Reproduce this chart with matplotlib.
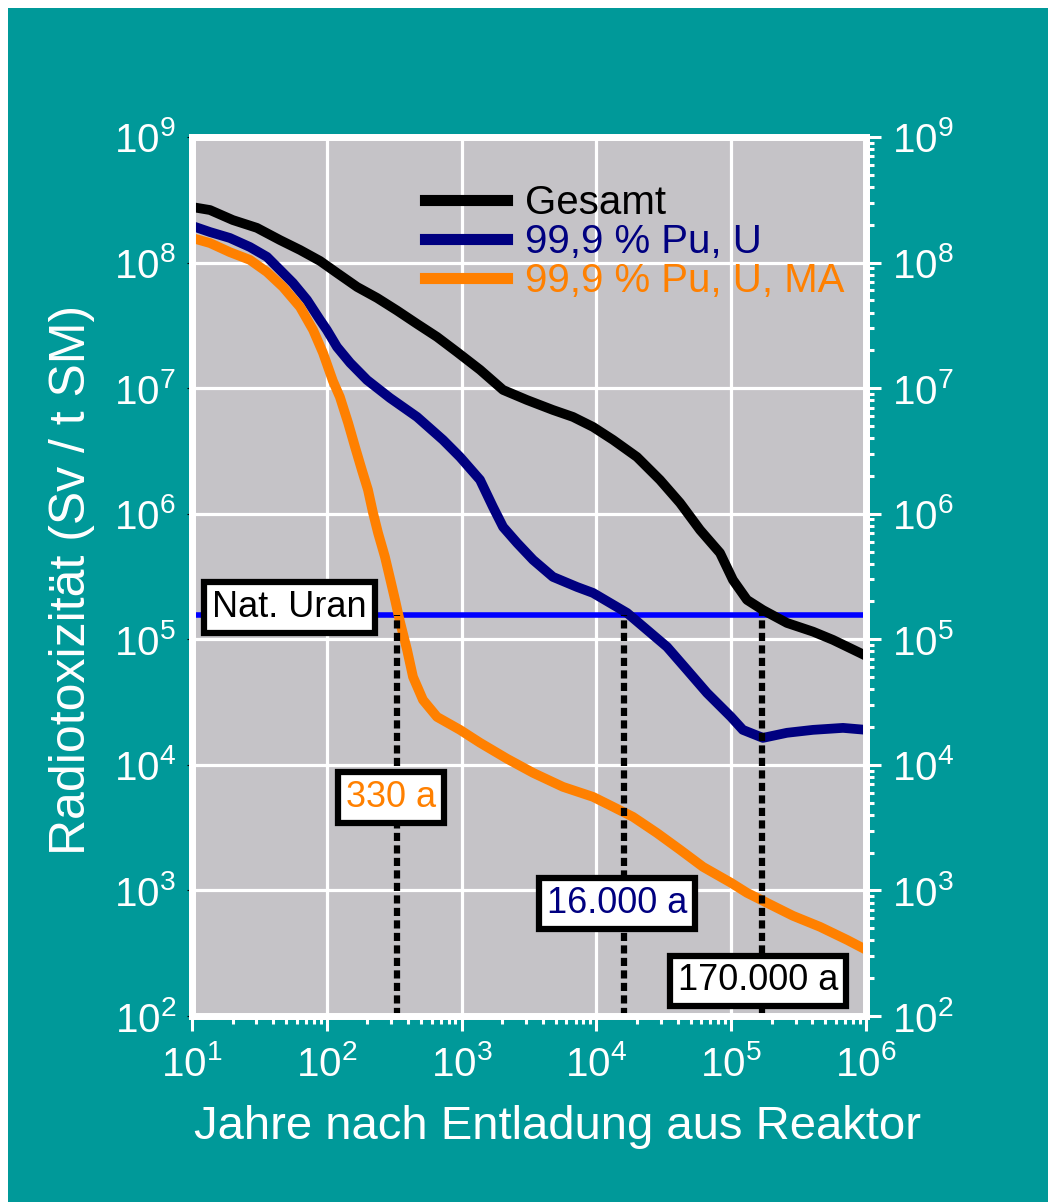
import math
import matplotlib
matplotlib.use("Agg")
import matplotlib.pyplot as plt
from matplotlib.patches import Rectangle
from matplotlib.ticker import LogLocator, FuncFormatter, NullFormatter

plt.rcParams['font.family'] = ['Liberation Sans', 'DejaVu Sans']
plt.rcParams['mathtext.default'] = 'regular'

# ---------------- data ----------------
gesamt_years = [10, 13.6, 20.1, 30.3, 45.0, 63.3, 89.1, 119, 168, 236, 332, 467, 657,
                925, 1370, 2030, 3050, 4760, 6700, 9440, 13300, 20000, 29600, 41700,
                58700, 82600, 103000, 131000, 172000, 259000, 405000, 569000, 902000,
                1000000]
gesamt_sv = [2.77e8, 2.62e8, 2.18e8, 1.89e8, 1.51e8, 1.26e8, 1.03e8, 8.27e7, 6.39e7,
             5.23e7, 4.15e7, 3.25e7, 2.56e7, 1.94e7, 1.40e7, 9.68e6, 8.05e6, 6.70e6,
             5.90e6, 4.91e6, 3.87e6, 2.83e6, 1.86e6, 1.22e6, 7.43e5, 4.87e5, 2.97e5,
             2.06e5, 1.71e5, 1.35e5, 1.15e5, 9.89e4, 7.79e4, 7.38e4]

puu_years = [10, 13.6, 19.1, 26.9, 36.0, 45.0, 56.1, 71.3, 89.1, 100, 119, 149, 199,
             294, 467, 728, 973, 1370, 1710, 2030, 2580, 3390, 4760, 7180, 9440,
             12600, 16900, 23700, 33400, 47000, 66100, 99700, 122000, 172000, 259000,
             405000, 675000, 1000000]
puu_sv = [1.96e8, 1.75e8, 1.57e8, 1.33e8, 1.11e8, 8.73e7, 6.88e7, 5.04e7, 3.49e7,
          2.91e7, 2.13e7, 1.59e7, 1.16e7, 8.36e6, 5.90e6, 3.87e6, 2.83e6,
          1.86e6, 1.13e6, 7.85e5, 5.85e5, 4.29e5, 3.14e5, 2.61e5, 2.34e5, 1.95e5,
          1.62e5, 1.19e5, 8.70e4, 5.71e4, 3.74e4, 2.41e4, 1.90e4, 1.64e4, 1.80e4,
          1.90e4, 1.97e4, 1.90e4]

puuma_years = [10, 13.6, 19.1, 26.9, 36.0, 47.3, 63.3, 79.1, 93.7, 111, 125, 144, 162,
               182, 202, 220, 240, 270, 294, 321, 349, 394, 436, 517, 657, 973, 1370,
               2170, 3390, 5650, 9440, 13300, 18700, 28100, 41700, 61800, 99700,
               131000, 184000, 287000, 456000, 723000, 1000000]
puuma_sv = [1.57e8, 1.43e8, 1.21e8, 1.05e8, 8.41e7, 6.39e7, 4.43e7, 2.91e7, 1.91e7,
            1.14e7, 8.51e6, 5.28e6, 3.40e6, 2.23e6, 1.55e6, 1.02e6, 7.03e5, 4.53e5,
            3.08e5, 2.06e5, 1.38e5, 8.24e4, 5.02e4, 3.29e4, 2.41e4, 1.90e4, 1.50e4,
            1.12e4, 8.64e3, 6.68e3, 5.56e3, 4.63e3, 3.85e3, 2.87e3, 2.11e3, 1.54e3,
            1.15e3, 957, 797, 628, 513, 404, 337]

series_labels = ["Gesamt", "99,9 % Pu, U", "99,9 % Pu, U, MA"]
series_colors = ["#000000", "#000080", "#ff8000"]

nat_uran_level = 1.56e5
nat_uran_label = "Nat. Uran"

crossing_years = [330, 16000, 170000]
crossing_top = [1.56e5, 1.56e5, 1.9e5]
crossing_labels = ["330 a", "16.000 a", "170.000 a"]
crossing_colors = ["#ff8000", "#000080", "#000000"]

x_label = "Jahre nach Entladung aus Reaktor"
y_label = "Radiotoxizität (Sv / t SM)"

# ---------------- figure ----------------
TEAL = "#009999"
GRAY = "#c5c3c7"
W, H = 1048, 1202
fig = plt.figure(figsize=(W / 100, H / 100), dpi=100, facecolor="white")
fig.patches.append(Rectangle((8 / W, 0), 1 - 8 / W, 1 - 8 / H, transform=fig.transFigure,
                             facecolor=TEAL, edgecolor="none", zorder=-10))

left, right, top, bottom = 192, 866, 137, 1016
ax = fig.add_axes([left / W, 1 - bottom / H, (right - left) / W, (bottom - top) / H])
ax.set_facecolor(GRAY)
ax.set_xscale("log")
ax.set_yscale("log")
ax.set_xlim(10, 1e6)
ax.set_ylim(1e2, 1e9)

ax.grid(True, which="major", color="white", linewidth=2.3, zorder=0)
ax.set_axisbelow(True)

for sp in ax.spines.values():
    sp.set_color("white")
    sp.set_linewidth(5)


def fmt(v, pos):
    e = int(round(math.log10(v)))
    return r"$10^{%d}$" % e


def setup_log_axis(axis):
    axis.set_major_locator(LogLocator(base=10, numticks=10))
    axis.set_minor_locator(LogLocator(base=10, subs=range(2, 10), numticks=20))
    axis.set_major_formatter(FuncFormatter(fmt))
    axis.set_minor_formatter(NullFormatter())


setup_log_axis(ax.xaxis)
setup_log_axis(ax.yaxis)

ax.tick_params(axis="x", which="major", direction="out", length=11, width=2.2,
               color="white", labelcolor="white", labelsize=29, pad=10, top=False)
ax.tick_params(axis="x", which="minor", direction="out", length=6, width=2.2,
               color="white", top=False)
ax.tick_params(axis="y", which="both", left=False, right=False, labelleft=True,
               labelright=False, labelcolor="white", labelsize=29, pad=8)

ax2 = ax.twinx()
ax2.set_yscale("log")
ax2.set_ylim(1e2, 1e9)
setup_log_axis(ax2.yaxis)
ax2.tick_params(axis="y", which="major", direction="out", length=11, width=2.2,
                color="white", labelcolor="white", labelsize=29, pad=8)
ax2.tick_params(axis="y", which="minor", direction="out", length=6, width=2.2,
                color="white")
for sp in ax2.spines.values():
    sp.set_color("white")
    sp.set_linewidth(5)

# curves
LW = 7
ax.plot(gesamt_years, gesamt_sv, color=series_colors[0], lw=LW, label=series_labels[0],
        zorder=3, solid_joinstyle="round")
ax.plot(puu_years, puu_sv, color=series_colors[1], lw=LW, label=series_labels[1],
        zorder=3, solid_joinstyle="round")
ax.plot(puuma_years, puuma_sv, color=series_colors[2], lw=LW, label=series_labels[2],
        zorder=3, solid_joinstyle="round")

# natural uranium line
ax.axhline(nat_uran_level, color="#0000ff", lw=4, zorder=2)

# crossing lines
for xv, yt in zip(crossing_years, crossing_top):
    ax.vlines(xv, 1e2, yt, colors="black", lw=4.5, linestyles=(0, (1.3, 0.7)), zorder=4)

# boxes
box = dict(boxstyle="square,pad=0.22", fc="white", ec="black", lw=4.5)
ax.text(53, 1.78e5, nat_uran_label, ha="center", va="center", fontsize=26,
        color="black", bbox=box, zorder=6)
label_pos = [(299, 5460), (14200, 781), (158000, 190)]
for (px, py), txt, c in zip(label_pos, crossing_labels, crossing_colors):
    ax.text(px, py, txt, ha="center", va="center", fontsize=26, color=c,
            bbox=box, zorder=6)

leg = ax.legend(loc="upper left", bbox_to_anchor=(0.346, 0.946), frameon=False,
                fontsize=29, handlelength=2.03, handletextpad=0.45, labelspacing=0.02,
                borderpad=0, borderaxespad=0, labelcolor="linecolor")
for l in leg.get_lines():
    l.set_linewidth(8)
leg.set_zorder(7)

ax.set_xlabel(x_label, fontsize=34, color="white")
ax.xaxis.set_label_coords(0.543, -0.101)
ax.set_ylabel(y_label, fontsize=36, color="white")
ax.yaxis.set_label_coords(-0.144, 0.496)

fig.savefig("out.png", dpi=100, facecolor=fig.get_facecolor())
